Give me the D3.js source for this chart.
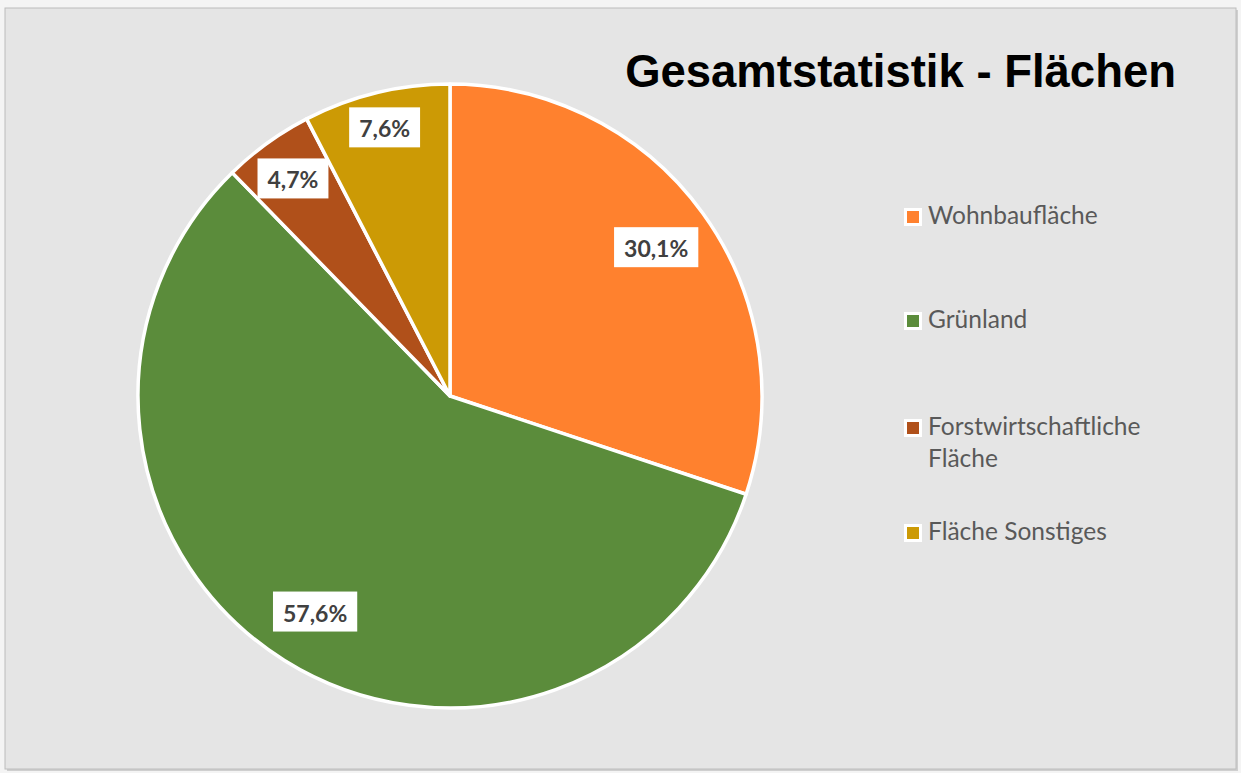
<!DOCTYPE html>
<html>
<head>
<meta charset="utf-8">
<script src="https://cdn.jsdelivr.net/npm/d3@7"></script>
<style>
  html, body { margin: 0; padding: 0; background: #f4f4f4; }
  svg { display: block; }
</style>
</head>
<body>
<svg id="chart" width="1241" height="773"></svg>
<script>
const categories = ["Wohnbaufläche", "Grünland", "Forstwirtschaftliche Fläche", "Fläche Sonstiges"];
const legendLines = [["Wohnbaufläche"], ["Grünland"], ["Forstwirtschaftliche", "Fläche"], ["Fläche Sonstiges"]];
const values = [30.1, 57.6, 4.7, 7.6];
const valueLabels = ["30,1%", "57,6%", "4,7%", "7,6%"];
const colors = ["#FF812E", "#5B8C3B", "#B0501A", "#CC9A05"];
const titleText = "Gesamtstatistik - Flächen";

const svg = d3.select("#chart");

// chart area
svg.append("rect").attr("x", 7).attr("y", 10).attr("width", 1231).attr("height", 761)
  .attr("fill", "#cfcfcf");
svg.append("rect").attr("x", 5).attr("y", 8).attr("width", 1231).attr("height", 761)
  .attr("fill", "#e5e5e5").attr("stroke", "#bcbcbc").attr("stroke-width", 1);

// title
const title = svg.append("text")
  .attr("x", 1176).attr("y", 87)
  .attr("text-anchor", "end")
  .attr("font-family", "Liberation Sans, Arial, sans-serif")
  .attr("font-weight", "bold")
  .attr("font-size", 46)
  .attr("fill", "#000")
  .text(titleText);
const tw = title.node().getComputedTextLength();
title.attr("font-size", 46 * 551 / tw);

// pie
const cx = 450, cy = 396, r = 312;
const g = svg.append("g").attr("transform", `translate(${cx},${cy})`);
const pie = d3.pie().sort(null).value(d => d)(values);
const arc = d3.arc().innerRadius(0).outerRadius(r);

g.selectAll("path.slice").data(pie).enter().append("path")
  .attr("class", "slice")
  .attr("d", arc)
  .attr("fill", (d, i) => colors[i])
  .attr("stroke", "#ffffff")
  .attr("stroke-width", 3.5)
  .attr("stroke-linejoin", "round");

// data labels
const bh = 40;
pie.forEach((d, i) => {
  const a = (d.startAngle + d.endAngle) / 2;
  const lab = g.append("g");
  const t = lab.append("text")
    .attr("text-anchor", "middle")
    .attr("dominant-baseline", "central")
    .attr("font-family", "Lato, Carlito, Calibri, sans-serif")
    .attr("font-weight", "bold")
    .attr("font-size", 23)
    .attr("fill", "#404040")
    .text(valueLabels[i]);
  const w = t.node().getComputedTextLength() + 20;
  const h = bh;
  let dist = 0.815 * r;
  if (values[i] < 10) {
    // push small-slice labels outward until the farthest corner is near the rim
    const target = 0.98 * r;
    let lo = 0, hi = r;
    for (let k = 0; k < 40; k++) {
      const m = (lo + hi) / 2;
      const x = Math.sin(a) * m, y = -Math.cos(a) * m;
      const corner = Math.max(
        Math.hypot(x - w / 2, y - h / 2), Math.hypot(x + w / 2, y - h / 2),
        Math.hypot(x - w / 2, y + h / 2), Math.hypot(x + w / 2, y + h / 2));
      if (corner > target) hi = m; else lo = m;
    }
    dist = lo;
  }
  const x = Math.sin(a) * dist, y = -Math.cos(a) * dist;
  lab.attr("transform", `translate(${x},${y})`);
  lab.insert("rect", "text")
    .attr("x", -w / 2).attr("y", -h / 2).attr("width", w).attr("height", h)
    .attr("fill", "#ffffff");
  t.attr("y", 1);
});

// legend
const rowY = [224, 328, 435, 540];
const lg = svg.append("g");
categories.forEach((c, i) => {
  const row = lg.append("g").attr("transform", `translate(904, ${rowY[i]})`);
  row.append("rect").attr("x", 0).attr("y", -16).attr("width", 18).attr("height", 18).attr("fill", "#ffffff");
  row.append("rect").attr("x", 3).attr("y", -13).attr("width", 12).attr("height", 12).attr("fill", colors[i]);
  const t = row.append("text")
    .attr("x", 24).attr("y", 0)
    .attr("font-family", "Lato, Carlito, Calibri, sans-serif")
    .attr("font-size", 24.5)
    .attr("fill", "#595959");
  legendLines[i].forEach((ln, j) => {
    t.append("tspan").attr("x", 24).attr("dy", j === 0 ? 0 : 32).text(ln);
  });
});
</script>
</body>
</html>
